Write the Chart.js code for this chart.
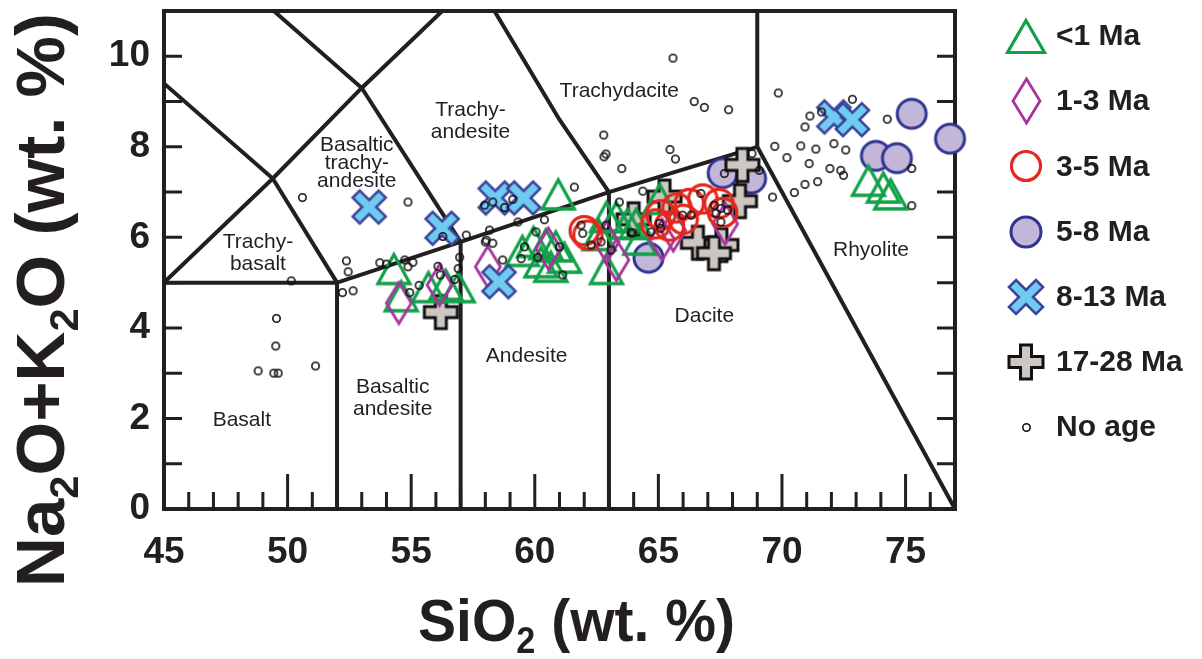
<!DOCTYPE html>
<html><head><meta charset="utf-8">
<script src="https://cdn.jsdelivr.net/npm/chart.js@4.4.1/dist/chart.umd.min.js"></script>
<style>html,body{margin:0;padding:0;background:#fff;}canvas{display:block;}</style>
</head><body>
<canvas id="c" width="1202" height="659"></canvas>
<script>
// ---------------- DATA ----------------
const xTickLabels = [45, 50, 55, 60, 65, 70, 75];
const yTickLabels = [0, 2, 4, 6, 8, 10];
const xRange = [45, 77];
const yRange = [0, 11];
const seriesNames = ['<1 Ma', '1-3 Ma', '3-5 Ma', '5-8 Ma', '8-13 Ma', '17-28 Ma', 'No age'];

const ageLt1 = [
  [54.3,5.3],[54.6,4.7],[55.7,4.9],[56.4,4.95],[56.9,4.9],
  [59.5,5.7],[59.95,5.9],[60.45,5.85],[60.85,5.8],[60.25,5.45],[60.65,5.35],[61.2,5.55],[60.95,6.95],
  [62.6,6.05],[62.9,6.45],[63.3,6.45],[63.75,6.3],[62.9,5.3],
  [64.1,6.3],[64.25,5.95],[65.05,6.85],
  [73.5,7.25],[74.1,7.1],[74.4,6.95]
];
const age1to3 = [
  [54.5,4.55],[56.15,4.95],[58.1,5.35],[60.55,5.75],[62.9,5.9],[63.3,5.5],[65.15,5.95],[65.6,6.15],[67.7,6.3]
];
const age3to5 = [
  [62.0,6.15],[62.15,6.05],[64.9,6.3],[65.1,6.5],[65.45,6.25],[65.75,6.65],[66.0,6.4],[66.25,6.75],[66.8,6.85],[67.45,6.75],[67.6,6.55]
];
const age5to8 = [
  [64.6,5.55],[67.6,7.42],[68.75,7.3],[73.8,7.8],[74.65,7.75],[75.25,8.73],[76.8,8.18]
];
const age8to13 = [
  [53.3,6.67],[56.25,6.2],[58.4,6.87],[59.55,6.87],[58.55,5.02],[72.1,8.66],[72.85,8.6]
];
const age17to28 = [
  [56.2,4.35],[64.0,6.4],[65.25,6.9],[66.6,5.88],[67.55,5.83],[67.25,5.65],[68.3,6.8],[68.4,7.6]
];
const noAge = [
  [50.6,6.88],[50.15,5.04],[49.55,4.21],[49.52,3.6],[48.81,3.05],[49.44,3.0],[49.62,3.0],[51.13,3.16],
  [54.87,6.78],[56.28,6.02],[57.23,6.05],[58.0,5.9],
  [52.38,5.48],[52.45,5.24],[52.22,4.78],[52.65,4.82],[53.73,5.44],[54.0,5.41],[54.74,5.5],[55.07,5.45],
  [54.87,5.35],[55.32,4.94],[54.94,4.78],[56.08,5.36],[56.18,5.17],[56.9,5.31],[56.96,5.56],[56.76,5.07],
  [57.97,6.71],[58.3,6.78],[58.78,6.66],[59.11,6.84],[61.6,7.11],[59.32,6.34],[60.39,6.39],[58.04,5.94],
  [58.3,5.87],[58.7,5.5],[60.05,6.12],[59.58,5.79],[59.45,5.53],[60.12,5.56],[61.0,5.79],[61.13,5.17],
  [61.87,6.27],[61.94,6.09],[62.28,5.83],[62.68,5.9],[62.88,6.27],[63.09,5.72],[63.42,6.78],[63.9,6.1],[58.17,6.16],
  [65.59,9.96],[66.45,9.0],[66.86,8.87],[67.84,8.82],[62.79,8.26],[62.88,7.84],[62.8,7.78],[63.52,7.52],
  [65.47,7.94],[65.69,7.73],[64.37,7.02],
  [67.67,7.41],[69.08,7.48],[68.79,7.85],[69.62,6.89],[66.72,6.97],[65.98,6.49],[66.32,6.49],[65.04,6.31],
  [65.1,6.2],[64.7,6.12],[63.96,6.1],[67.26,6.71],[67.53,6.64],[67.8,6.6],[67.33,6.53],[67.53,6.34],
  [69.85,9.19],[72.85,9.05],[71.13,8.68],[71.6,8.77],[70.93,8.44],[74.26,8.61],[69.71,8.01],[70.76,8.02],
  [71.37,7.95],[72.1,8.07],[72.58,7.93],[70.2,7.76],[71.1,7.63],[71.94,7.52],[72.38,7.48],[72.49,7.37],
  [71.44,7.23],[70.93,7.17],[70.5,6.99],[75.25,7.52],[75.25,6.7]
];

// TAS field boundaries (data coordinates)
const tasBoundaries = [
  [[45,5],[52,5]],
  [[52,0],[52,5],[57,5.9],[63,7],[69,8]],
  [[57,0],[57,5.9]],
  [[63,0],[63,7]],
  [[69,8],[69,11.5]],
  [[69,8],[77,0]],
  [[45,5],[49.4,7.3],[53,9.3],[57.6,11.7]],
  [[45,9.4],[49.4,7.3],[52,5]],
  [[48.4,11.5],[53,9.3],[57,5.9]],
  [[63,7],[61,8.6],[57.6,11.7]]
];

// Field names (anchored in data coordinates)
const fieldNames = [
  {lines:['Basalt'], x:48.15, y:1.96},
  {lines:['Basaltic','andesite'], x:54.25, y:2.45},
  {lines:['Andesite'], x:59.67, y:3.38},
  {lines:['Dacite'], x:66.86, y:4.26},
  {lines:['Rhyolite'], x:73.6, y:5.72},
  {lines:['Trachydacite'], x:63.42, y:9.22},
  {lines:['Trachy-','andesite'], x:57.4, y:8.56},
  {lines:['Basaltic','trachy-','andesite'], x:52.8, y:7.64, lh:18},
  {lines:['Trachy-','basalt'], x:48.8, y:5.65}
];

// ---------------- MARKERS ----------------
const FAM = '"Liberation Sans", Arial, Helvetica, sans-serif';
const INK = '#231f20';
function mk(w, h, fn) {
  const c = document.createElement('canvas');
  c.width = w; c.height = h;
  const g = c.getContext('2d');
  fn(g, w / 2, h / 2);
  return c;
}
function triangleMarker(w, h, lw, color) {
  return mk(Math.ceil(w + lw * 4), Math.ceil(h + lw * 4), (g, cx, cy) => {
    g.beginPath();
    g.moveTo(cx, cy - h / 2); g.lineTo(cx + w / 2, cy + h / 2); g.lineTo(cx - w / 2, cy + h / 2); g.closePath();
    g.lineWidth = lw; g.strokeStyle = color; g.lineJoin = 'miter'; g.stroke();
  });
}
function diamondMarker(w, h, lw, color) {
  return mk(Math.ceil(w + lw * 4), Math.ceil(h + lw * 4), (g, cx, cy) => {
    g.beginPath();
    g.moveTo(cx, cy - h / 2); g.lineTo(cx + w / 2, cy); g.lineTo(cx, cy + h / 2); g.lineTo(cx - w / 2, cy); g.closePath();
    g.lineWidth = lw; g.strokeStyle = color; g.stroke();
  });
}
function circleMarker(r, lw, stroke, fill) {
  const s = Math.ceil(2 * r + lw * 2 + 2);
  return mk(s, s, (g, cx, cy) => {
    g.beginPath(); g.arc(cx, cy, r, 0, Math.PI * 2);
    if (fill) { g.fillStyle = fill; g.fill(); }
    g.lineWidth = lw; g.strokeStyle = stroke; g.stroke();
  });
}
function plusPath(g, cx, cy, L, t, rot) {
  const pts = [[t,-L],[t,-t],[L,-t],[L,t],[t,t],[t,L],[-t,L],[-t,t],[-L,t],[-L,-t],[-t,-t],[-t,-L]];
  const c = Math.cos(rot), s = Math.sin(rot);
  g.beginPath();
  pts.forEach((p, i) => {
    const x = cx + p[0] * c - p[1] * s, y = cy + p[0] * s + p[1] * c;
    if (i === 0) g.moveTo(x, y); else g.lineTo(x, y);
  });
  g.closePath();
}
function crossMarker(size, t, lw, stroke, fill, rot) {
  const L = rot ? (size / 2) * Math.SQRT2 - t : size / 2;
  const s = Math.ceil(size + lw * 2 + 4);
  return mk(s, s, (g, cx, cy) => {
    plusPath(g, cx, cy, L, t, rot);
    g.fillStyle = fill; g.fill();
    g.lineWidth = lw; g.strokeStyle = stroke; g.lineJoin = 'miter'; g.stroke();
  });
}
const COL = {
  green: '#12a049', purple: '#a6359c', red: '#e3281f',
  lavFill: '#c3b7d9', navy: '#2f3590', xFill: '#70cbf1', xLine: '#3c449c',
  grayFill: '#cdc7c1'
};
const plotMarkers = [
  triangleMarker(32, 29, 3.3, COL.green),
  diamondMarker(25, 41, 2.8, COL.purple),
  circleMarker(14.2, 3.2, COL.red, null),
  circleMarker(14.5, 3, COL.navy, COL.lavFill),
  crossMarker(33, 5, 2.6, COL.xLine, COL.xFill, Math.PI / 4),
  crossMarker(33, 5.5, 3, '#111', COL.grayFill, 0),
  circleMarker(3.7, 1.6, '#111', null)
];
const legendMarkers = [
  triangleMarker(37, 32, 3.2, COL.green),
  diamondMarker(27, 44, 2.8, COL.purple),
  circleMarker(14.5, 3.2, COL.red, null),
  circleMarker(15, 3, COL.navy, COL.lavFill),
  crossMarker(34, 5, 2.6, COL.xLine, COL.xFill, Math.PI / 4),
  crossMarker(34, 5.5, 3, '#111', COL.grayFill, 0),
  circleMarker(3.7, 1.6, '#111', null)
];

const seriesData = [ageLt1, age1to3, age3to5, age5to8, age8to13, age17to28, noAge];
// z-order: smaller number drawn on top
const seriesOrder = [5, 4, 2, 7, 3, 6, 1];

const datasets = [];
seriesData.forEach((arr, i) => {
  datasets.push({
    label: seriesNames[i],
    data: arr.map(p => ({x: p[0], y: p[1]})),
    pointStyle: plotMarkers[i],
    pointRadius: 10,
    showLine: false,
    clip: false,
    order: seriesOrder[i]
  });
});
tasBoundaries.forEach((seg, i) => {
  datasets.push({
    label: 'boundary' + i,
    data: seg.map(p => ({x: p[0], y: p[1]})),
    showLine: true,
    borderColor: INK,
    borderWidth: 4,
    pointRadius: 0,
    fill: false,
    tension: 0,
    borderJoinStyle: 'miter',
    order: 20
  });
});

// ---------------- PLUGINS ----------------
const framePlugin = {
  id: 'frame',
  beforeDatasetsDraw(chart) {
    const {ctx, chartArea: a, scales: {x, y}} = chart;
    ctx.save();
    ctx.strokeStyle = INK;
    ctx.lineWidth = 3;
    ctx.lineCap = 'butt';
    ctx.beginPath();
    for (let v = Math.ceil(x.min); v <= x.max; v++) {
      const px = x.getPixelForValue(v);
      const len = (v % 5 === 0) ? 35 : 17;
      ctx.moveTo(px, a.bottom); ctx.lineTo(px, a.bottom - len);
    }
    for (let v = Math.ceil(y.min); v <= y.max; v++) {
      const py = y.getPixelForValue(v);
      ctx.moveTo(a.left, py); ctx.lineTo(a.left + 18, py);
      ctx.moveTo(a.right, py); ctx.lineTo(a.right - 18, py);
    }
    ctx.stroke();
    ctx.lineWidth = 4;
    ctx.strokeRect(a.left, a.top, a.right - a.left, a.bottom - a.top);
    // field names
    ctx.fillStyle = INK;
    ctx.font = '21px ' + FAM;
    ctx.textAlign = 'center';
    ctx.textBaseline = 'middle';
    fieldNames.forEach(f => {
      const lh = f.lh || 22;
      const cx = x.getPixelForValue(f.x), cy = y.getPixelForValue(f.y);
      const n = f.lines.length;
      f.lines.forEach((t, i) => ctx.fillText(t, cx, cy + (i - (n - 1) / 2) * lh));
    });
    ctx.restore();
  }
};

function richWidth(ctx, parts, size) {
  let w = 0;
  parts.forEach(p => {
    ctx.font = 'bold ' + (p.sub ? Math.round(size * 0.6) : size) + 'px ' + FAM;
    w += ctx.measureText(p.t).width;
  });
  return w;
}
function richDraw(ctx, parts, size) {
  let x = 0;
  parts.forEach(p => {
    ctx.font = 'bold ' + (p.sub ? Math.round(size * 0.6) : size) + 'px ' + FAM;
    ctx.fillText(p.t, x, p.sub ? size * 0.2 : 0);
    x += ctx.measureText(p.t).width;
  });
}
const xTitle = [{t:'SiO'},{t:'2',sub:true},{t:' (wt. %)'}];
const yTitle = [{t:'Na'},{t:'2',sub:true},{t:'O+K'},{t:'2',sub:true},{t:'O (wt. %)'}];

const titlePlugin = {
  id: 'titles',
  afterDraw(chart) {
    const ctx = chart.ctx;
    ctx.save();
    ctx.fillStyle = INK;
    ctx.textAlign = 'left';
    ctx.textBaseline = 'alphabetic';
    // x title
    let size = 60, target = 317;
    let w = richWidth(ctx, xTitle, size);
    ctx.save();
    ctx.translate(418, 641);
    ctx.scale(target / w, 1);
    richDraw(ctx, xTitle, size);
    ctx.restore();
    // y title
    size = 68; target = 574;
    w = richWidth(ctx, yTitle, size);
    ctx.save();
    ctx.translate(64, 587);
    ctx.rotate(-Math.PI / 2);
    ctx.scale(target / w, 1);
    richDraw(ctx, yTitle, size);
    ctx.restore();
    // legend
    ctx.textBaseline = 'middle';
    ctx.font = 'bold 30px ' + FAM;
    seriesNames.forEach((name, i) => {
      const cy = 36 + i * 65.2;
      const m = legendMarkers[i];
      ctx.drawImage(m, Math.round(1026 - m.width / 2), Math.round(cy - m.height / 2));
      ctx.fillText(name, 1056, cy + 1);
    });
    ctx.restore();
  }
};

function noScalePadding(s) {
  s.paddingTop = 0; s.paddingBottom = 0; s.paddingLeft = 0; s.paddingRight = 0;
}

new Chart(document.getElementById('c'), {
  type: 'scatter',
  data: {datasets},
  options: {
    responsive: false,
    animation: false,
    devicePixelRatio: 1,
    layout: {padding: {left: 0, right: 247, top: 10, bottom: 0}},
    plugins: {legend: {display: false}, tooltip: {enabled: false}},
    scales: {
      x: {
        type: 'linear', min: xRange[0], max: xRange[1],
        grid: {display: false, drawTicks: false, tickLength: 0},
        border: {display: false},
        afterBuildTicks: s => { s.ticks = xTickLabels.map(v => ({value: v})); },
        afterFit: s => { s.height = 150; noScalePadding(s); },
        ticks: {font: {family: FAM, size: 37, weight: 'bold'}, color: INK, padding: 22, maxRotation: 0, autoSkip: false}
      },
      y: {
        type: 'linear', min: yRange[0], max: yRange[1],
        grid: {display: false, drawTicks: false, tickLength: 0},
        border: {display: false},
        afterBuildTicks: s => { s.ticks = yTickLabels.map(v => ({value: v})); },
        afterFit: s => { s.width = 164; noScalePadding(s); },
        ticks: {font: {family: FAM, size: 37, weight: 'bold'}, color: INK, padding: 14, autoSkip: false}
      }
    }
  },
  plugins: [framePlugin, titlePlugin]
});
</script>
</body></html>
